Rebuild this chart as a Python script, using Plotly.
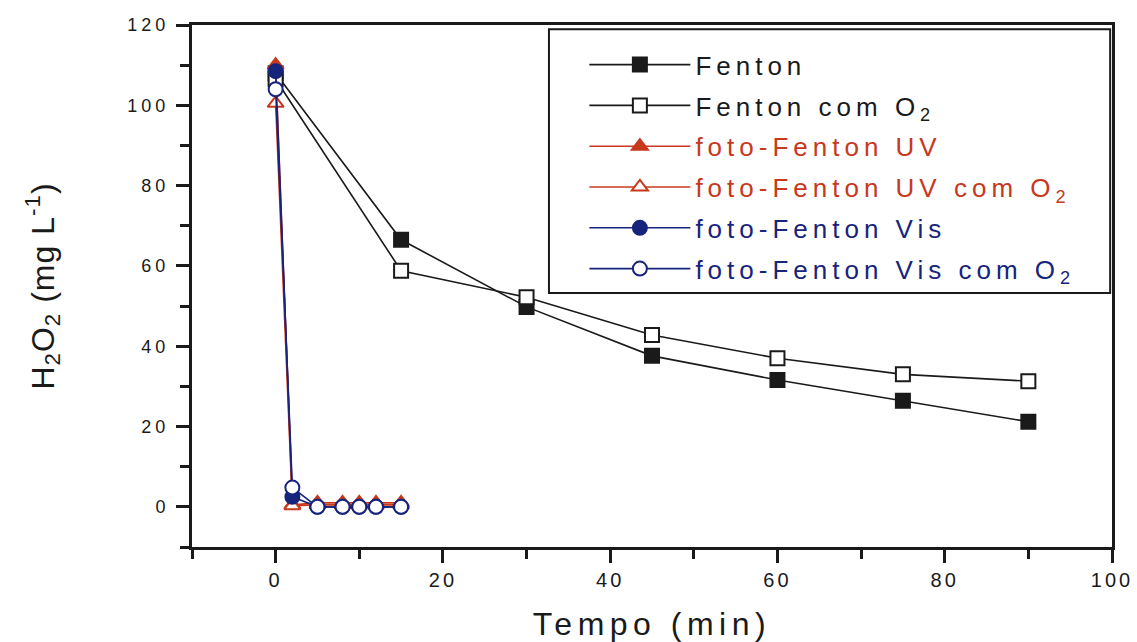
import plotly.graph_objects as go

# Reaction time (min)
t_fenton = [0, 15, 30, 45, 60, 75, 90]
t_foto = [0, 2, 5, 8, 10, 12, 15]

# Residual H2O2 (mg L-1)
h2o2_fenton = [108.0, 66.5, 49.8, 37.6, 31.6, 26.4, 21.2]
h2o2_fenton_o2 = [106.5, 58.8, 52.2, 42.8, 37.0, 33.0, 31.3]
h2o2_uv = [110.0, 0.5, 1.0, 1.0, 1.0, 1.0, 1.0]
h2o2_uv_o2 = [100.5, 0.3, 0.5, 0.5, 0.5, 0.5, 0.5]
h2o2_vis = [108.5, 2.5, 0.0, 0.0, 0.0, 0.0, 0.0]
h2o2_vis_o2 = [104.0, 4.8, 0.0, 0.0, 0.0, 0.0, 0.0]

names = ["Fenton", "Fenton com O<sub>2</sub>", "foto-Fenton UV",
         "foto-Fenton UV com O<sub>2</sub>", "foto-Fenton Vis",
         "foto-Fenton Vis com O<sub>2</sub>"]

x_ticks = [0, 20, 40, 60, 80, 100]
y_ticks = [0, 20, 40, 60, 80, 100, 120]

BLACK = "#1a1a1a"
RED = "#c7381c"
NAVY = "#17247c"
FONT = "Liberation Sans, Arial, sans-serif"


def spaced(text, px, color=None):
    style = f"letter-spacing:{px}px"
    if color:
        style += f";color:{color}"
    return f'<span style="{style}">{text}</span>'


series = [
    (t_fenton, h2o2_fenton, BLACK, "square", BLACK, BLACK),
    (t_fenton, h2o2_fenton_o2, BLACK, "square", "white", BLACK),
    (t_foto, h2o2_uv, RED, "triangle-up", RED, RED),
    (t_foto, h2o2_uv_o2, RED, "triangle-up", "white", RED),
    (t_foto, h2o2_vis, NAVY, "circle", NAVY, NAVY),
    (t_foto, h2o2_vis_o2, NAVY, "circle", "white", NAVY),
]
legend_colors = [BLACK, BLACK, RED, RED, NAVY, NAVY]

fig = go.Figure()
for i, (tx, vy, lc, sym, fill, edge) in enumerate(series):
    fig.add_trace(go.Scatter(
        x=tx, y=vy, mode="lines+markers",
        name=spaced(names[i], 5, legend_colors[i]),
        legendgroup=f"g{i}",
        line=dict(color=lc, width=1.6),
        marker=dict(symbol=sym, size=14, color=fill,
                    line=dict(color=edge, width=2)),
    ))

fig.update_layout(
    width=1137, height=642,
    margin=dict(l=192, r=25, t=25, b=95),
    paper_bgcolor="white", plot_bgcolor="white",
    font=dict(family=FONT, color=BLACK),
    showlegend=True,
    legend=dict(
        x=0.4265, y=0.969, xanchor="left", yanchor="top",
        bgcolor="rgba(0,0,0,0)", borderwidth=0,
        font=dict(family=FONT, size=26, color=BLACK),
        tracegroupgap=4, itemwidth=101,
    ),
    # legend frame
    shapes=[dict(type="rect", xref="paper", yref="paper",
                 x0=0.388, x1=0.998, y0=0.4866, y1=0.992,
                 line=dict(color=BLACK, width=2), fillcolor="white",
                 layer="above")],
    xaxis=dict(
        range=[-10, 100], tickvals=x_ticks,
        ticktext=[spaced(str(v), 3) for v in x_ticks],
        tickfont=dict(family=FONT, size=20, color=BLACK),
        ticks="outside", ticklen=13, tickwidth=2.5, tickcolor=BLACK,
        minor=dict(dtick=10, tick0=0, ticks="outside", ticklen=9,
                   tickwidth=2.5, tickcolor=BLACK),
        showline=True, linewidth=3, linecolor=BLACK, mirror=True,
        showgrid=False, zeroline=False, ticklabelstandoff=0,
        automargin=False,
        title=dict(text=spaced("Tempo (min)", 5.5),
                   font=dict(family=FONT, size=32, color=BLACK),
                   standoff=32),
    ),
    yaxis=dict(
        range=[-10, 120], tickvals=y_ticks,
        ticktext=[spaced(str(v), 4) for v in y_ticks],
        tickfont=dict(family=FONT, size=18, color=BLACK),
        ticks="outside", ticklen=13, tickwidth=2.5, tickcolor=BLACK,
        minor=dict(dtick=10, tick0=0, ticks="outside", ticklen=9,
                   tickwidth=2.5, tickcolor=BLACK),
        showline=True, linewidth=3, linecolor=BLACK, mirror=True,
        showgrid=False, zeroline=False, ticklabelstandoff=3,
        automargin=False,
        title=dict(text=spaced("H<sub>2</sub>O<sub>2</sub> (mg L<sup>-1</sup>)", 1),
                   font=dict(family=FONT, size=32, color=BLACK),
                   standoff=64),
    ),
)

fig.write_html("out.html")
